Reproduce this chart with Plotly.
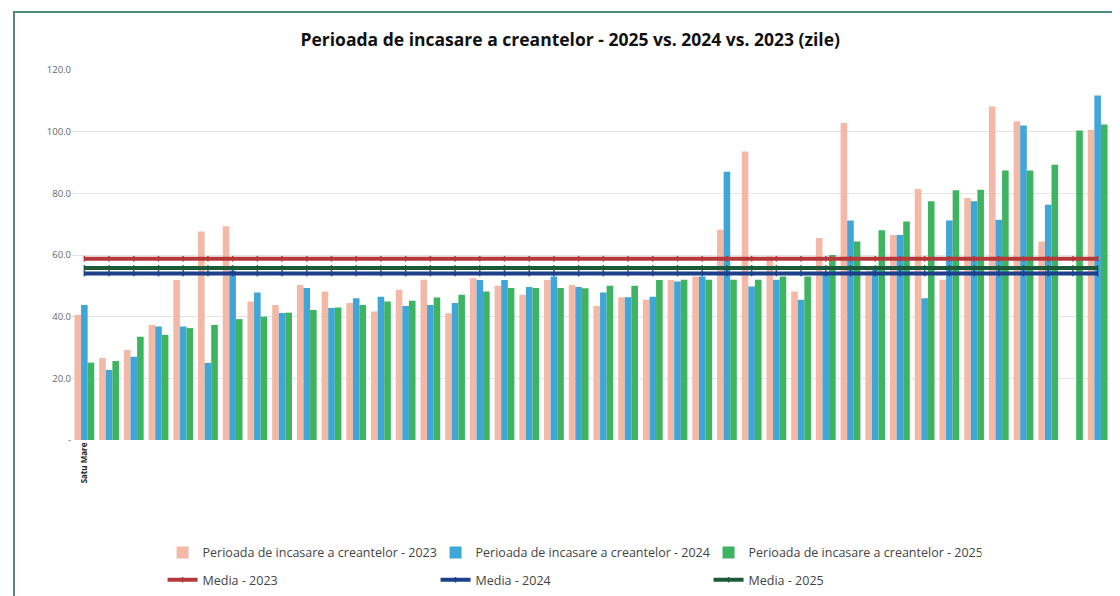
import plotly.graph_objects as go

categories = ["Satu Mare", "Alba", "Arad", "Argeș", "Bacău", "Bihor", "Bistrița-Năsăud",
              "Botoșani", "Brașov", "Brăila", "București", "Buzău", "Caraș-Severin",
              "Călărași", "Cluj", "Constanța", "Covasna", "Dâmbovița", "Dolj", "Galați",
              "Giurgiu", "Gorj", "Harghita", "Hunedoara", "Ialomița", "Iași", "Ilfov",
              "Maramureș", "Mehedinți", "Mureș", "Neamț", "Olt", "Prahova", "Sălaj",
              "Sibiu", "Suceava", "Teleorman", "Timiș", "Tulcea", "Vaslui", "Vâlcea", "Vrancea"]

val_2023 = [40.6, 26.6, 29.2, 37.3, 51.9, 67.6, 69.3, 44.9, 43.8, 50.3, 48.2, 44.4, 41.7, 48.7,
            52.0, 41.1, 52.5, 50.0, 47.1, 51.9, 50.3, 43.5, 46.3, 45.5, 51.9, 53.0, 68.2, 93.6,
            59.5, 48.2, 65.5, 102.8, 55.0, 66.5, 81.4, 52.0, 78.5, 108.2, 103.4, 64.4, None, 100.6]
val_2024 = [43.8, 22.7, 27.0, 36.8, 36.8, 25.0, 55.0, 47.8, 41.2, 49.3, 42.8, 46.0, 46.5, 43.5,
            43.8, 44.4, 51.9, 51.9, 49.6, 53.0, 49.6, 47.8, 46.3, 46.5, 51.4, 53.0, 87.0, 49.8,
            52.0, 45.5, 54.0, 71.2, 56.3, 66.5, 46.0, 71.2, 77.4, 71.4, 102.0, 76.3, None, 111.7]
val_2025 = [25.1, 25.6, 33.5, 34.1, 36.3, 37.3, 39.2, 40.0, 41.3, 42.2, 43.0, 43.8, 44.9, 45.2,
            46.2, 47.1, 48.2, 49.3, 49.3, 49.3, 49.2, 50.0, 50.0, 51.9, 52.0, 52.0, 52.0, 52.0,
            53.0, 53.0, 60.0, 64.4, 68.0, 70.9, 77.4, 81.0, 81.2, 87.4, 87.4, 89.3, 100.4, 102.3]

media_2023 = 58.8
media_2024 = 54.0
media_2025 = 55.8

bar_names = ["Perioada de incasare a creantelor - 2023",
             "Perioada de incasare a creantelor - 2024",
             "Perioada de incasare a creantelor - 2025"]
bar_colors = ["#f3b9a6", "#3fa6d8", "#3fb460"]
line_names = ["Media - 2023", "Media - 2024", "Media - 2025"]
line_colors = ["#b5393a", "#1d3f8c", "#1c5a3a"]

y_tickvals = [0, 20, 40, 60, 80, 100, 120]
y_ticktext = ["-", "20.0", "40.0", "60.0", "80.0", "100.0", "120.0"]

fig = go.Figure()
for name, vals, col in zip(bar_names, [val_2023, val_2024, val_2025], bar_colors):
    fig.add_trace(go.Bar(x=categories, y=vals, name=name, marker_color=col,
                         marker_line_width=0, legend="legend"))

for name, m, col in zip(line_names, [media_2023, media_2024, media_2025], line_colors):
    fig.add_trace(go.Scatter(x=categories, y=[m] * len(categories), name=name,
                             mode="lines+markers", line=dict(color=col, width=4),
                             marker=dict(color=col, size=4, symbol="line-ns",
                                         line=dict(color=col, width=1.5)),
                             legend="legend2"))

fig.update_layout(
    width=1120, height=596,
    paper_bgcolor="white", plot_bgcolor="white",
    margin=dict(l=64, r=18, t=62, b=164, autoexpand=False),
    barmode="group", bargap=0.2, bargroupgap=0.0,
    title=dict(text="<b>Perioada de incasare a creantelor - 2025 vs. 2024 vs. 2023 (zile)</b>",
               x=0.502, xanchor="center", y=0.946, yanchor="middle",
               font=dict(family="Open Sans", size=17.5, color="#111111")),
    font=dict(family="Open Sans", color="#555555"),
    legend=dict(orientation="h", xref="container", yref="container",
                x=0.138, xanchor="left", y=0.0856, yanchor="middle",
                entrywidth=228, font=dict(size=12.5, color="#444444"),
                traceorder="normal", itemwidth=30, bgcolor="rgba(0,0,0,0)"),
    legend2=dict(orientation="h", xref="container", yref="container",
                 x=0.138, xanchor="left", y=0.040, yanchor="middle",
                 entrywidth=228, font=dict(size=12.5, color="#444444"),
                 traceorder="normal", itemwidth=30, bgcolor="rgba(0,0,0,0)"),
    showlegend=True,
    shapes=[dict(type="rect", xref="paper", yref="paper", x0=-0.0559, x1=1.03, y0=-0.6, y1=1.157,
                 line=dict(color="#4f8a73", width=2), layer="below")],
)

fig.update_yaxes(range=[0, 120], tickvals=y_tickvals, ticktext=y_ticktext,
                 showgrid=True, gridcolor="#e4e4e4", gridwidth=1, zeroline=False,
                 tickfont=dict(size=9.5, color="#666666"), ticks="", showline=False)
fig.update_xaxes(range=[-0.5, len(categories) - 0.5],
                 tickvals=["Satu Mare"], ticktext=["<b>Satu Mare</b>"], tickangle=-90,
                 tickfont=dict(size=8, color="#222222"), showgrid=False, showline=False,
                 ticks="")

fig.write_html("out.html")
